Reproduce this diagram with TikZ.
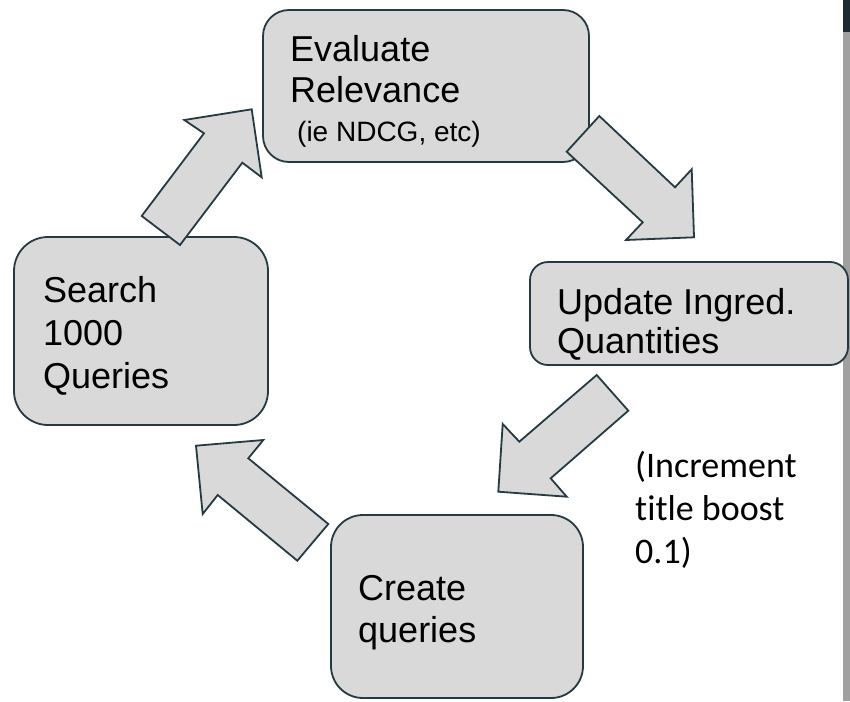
\documentclass[tikz,border=0pt]{standalone}
\usepackage{fontspec}
\setmainfont{Liberation Sans}
\newfontfamily\notefont[RawFeature={-liga}]{Carlito}
\definecolor{boxfill}{RGB}{217,217,217}
\definecolor{boxline}{RGB}{38,58,68}
\definecolor{stripgray}{RGB}{160,160,160}
\definecolor{stripdark}{RGB}{30,43,51}
\tikzset{
  stepbox/.style={draw=boxline, fill=boxfill, line width=1.8pt, inner sep=0pt},
  blockarrow/.style={draw=boxline, fill=boxfill, line width=1.8pt, line join=miter},
  bigtext/.style={anchor=base west, inner sep=0pt, font=\fontsize{36}{41}\selectfont},
  smalltext/.style={anchor=base west, inner sep=0pt, font=\fontsize{28}{32}\selectfont},
  notetext/.style={anchor=base west, inner sep=0pt, font=\notefont\fontsize{36}{43}\selectfont},
}
\begin{document}
\begin{tikzpicture}[x=1pt,y=-1pt]
\useasboundingbox (0,0) rectangle (850,701);
\fill[white] (0,0) rectangle (850,701);
% window edge on the right
\fill[stripgray] (843,0) rectangle (850,701);
\fill[stripdark] (843,0) rectangle (850,32);

% process steps
\node[stepbox, rounded corners=26pt, minimum width=326pt, minimum height=152pt] (eval) at (426,86) {};
\node[stepbox, rounded corners=34pt, minimum width=254pt, minimum height=188pt] (search) at (141,331) {};
\node[stepbox, rounded corners=18pt, minimum width=318pt, minimum height=103pt] (update) at (689,313.5) {};
\node[stepbox, rounded corners=32pt, minimum width=252pt, minimum height=183pt] (create) at (457,606.5) {};

% labels
\node[bigtext] (evalA) at (290,61) {Evaluate};
\node[bigtext] (evalB) at (290,102) {Relevance};
\node[smalltext] (evalC) at (297,141) {(ie NDCG, etc)};
\node[bigtext] (searchA) at (43,302) {Search};
\node[bigtext] (searchB) at (43,345) {1000};
\node[bigtext] (searchC) at (43,388) {Queries};
\node[bigtext] (updateA) at (557,314) {Update Ingred.};
\node[bigtext] (updateB) at (557,353) {Quantities};
\node[bigtext] (createA) at (358,600) {Create};
\node[bigtext] (createB) at (358,642) {queries};
\node[notetext] (noteA) at (635,477) {(Increment};
\node[notetext] (noteB) at (635,520) {title boost};
\node[notetext] (noteC) at (635,563) {0.1)};

% block arrows between the steps
\draw[blockarrow] (141.7,216) -- (204,133.3) -- (184.3,120) -- (251.7,109.3)
  -- (261.7,177.3) -- (242.3,162.7) -- (180,245) -- cycle;
\draw[blockarrow] (599.3,116) -- (675,187.3) -- (691.7,169.3) -- (694,237.3)
  -- (626,240) -- (642.7,222.3) -- (566.7,151.7) -- cycle;
\draw[blockarrow] (596.7,375) -- (628.3,410.7) -- (550.7,478.3) -- (566.7,496.7)
  -- (498.3,491.7) -- (502.7,424) -- (519.3,441.7) -- cycle;
\draw[blockarrow] (196,445.7) -- (263.3,440) -- (248.3,458.3) -- (328.3,524)
  -- (297.3,560.7) -- (217.7,495) -- (202.7,514) -- cycle;
\end{tikzpicture}
\end{document}
